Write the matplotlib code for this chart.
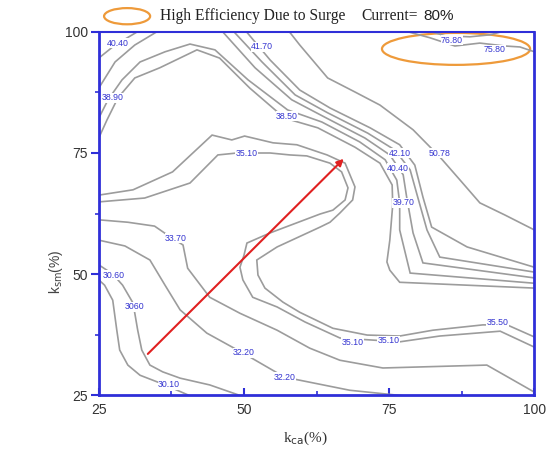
import matplotlib
matplotlib.use("Agg")
import matplotlib.pyplot as plt
from matplotlib.patches import Ellipse
from matplotlib.ticker import MultipleLocator

# 1. Curvas de nivel (k_ca %, k_sm %)
corner_x = [25, 27.8, 32.3]
corner_y = [94.6, 97.3, 100.5]

# feixe de linhas que desce do canto superior para a direita
b0_x = [50.1, 54.5, 59.6, 64.8, 71.7, 76.8, 79.4, 80.8, 82.3, 88.4, 100]
b0_y = [100.5, 94.2, 88.0, 84.3, 80.2, 76.7, 72.5, 65.9, 59.7, 55.6, 51.4]
b1_x = [47.9, 53.1, 58.8, 64.4, 71.3, 76.0, 78.6, 79.9, 81.5, 83.7, 100]
b1_y = [100.5, 93.8, 87.0, 83.3, 79.1, 75.6, 71.5, 65.9, 59.1, 53.5, 50.4]
b2_x = [25, 27.8, 31.2, 35.5, 40.7, 46.2, 51.9, 58.2, 63.9, 70.8, 75.1, 77.4, 78.0, 79.1, 80.8, 100]
b2_y = [88.4, 93.8, 97.3, 100.4, 102.1, 100.2, 92.6, 86.0, 82.4, 78.1, 74.6, 70.5, 65.9, 58.5, 52.3, 49.2]
b3_x = [25, 26.6, 29.0, 32.1, 36.4, 40.7, 45.0, 50.7, 57.5, 63.4, 69.9, 74.3, 76.3, 76.8, 76.8, 78.6, 100]
b3_y = [82.2, 86.0, 90.1, 93.8, 95.9, 97.5, 96.3, 90.1, 83.9, 81.4, 77.3, 73.6, 69.4, 64.7, 59.1, 50.2, 48.1]
b4_x = [25, 26.4, 28.3, 31.2, 35.5, 41.9, 45.8, 51.0, 57.0, 62.7, 69.1, 73.4, 75.5, 75.6, 75.1, 74.6, 75.1, 76.8, 100]
b4_y = [78.1, 81.8, 86.4, 90.5, 92.6, 96.3, 94.6, 88.4, 82.2, 80.2, 76.2, 72.9, 68.4, 64.3, 57.0, 52.5, 50.8, 48.3, 47.1]

# linha 50.78
l5078_x = [57.5, 59.6, 64.4, 69.1, 73.4, 79.1, 83.7, 87.2, 90.6, 94.9, 100]
l5078_y = [100.5, 97.3, 90.5, 87.6, 84.9, 79.8, 74.2, 69.4, 64.7, 62.2, 59.1]

# linhas dentro da elipse (surge)
l7580_x = [76.8, 82.0, 86.3, 90.6, 94.9, 97.5, 100]
l7580_y = [100.5, 98.8, 97.1, 97.7, 97.1, 96.9, 95.9]
l7680_x = [81.1, 84.6, 88.9, 92.3, 95.8]
l7680_y = [100.5, 99.2, 99.0, 99.4, 100.5]

# "lingua" 35.10 (duas linhas)
t_out_x = [25, 30.9, 37.7, 44.5, 47.9, 50.1, 55.0, 59.1, 64.3, 67.4, 69.1, 68.7, 66.5, 64.8, 63.1,
           55.7, 52.2, 52.4, 53.6, 56.7, 59.6, 65.3, 71.2, 76.8, 82.5, 91.1, 95.3, 100]
t_out_y = [66.3, 67.4, 71.1, 78.7, 77.7, 78.5, 77.1, 76.7, 74.6, 72.9, 68.0, 65.3, 62.6, 60.7, 59.7,
           55.6, 52.9, 49.8, 47.1, 44.2, 42.1, 38.8, 37.4, 37.2, 38.4, 39.5, 39.5, 37.0]
t_in_x = [25, 32.9, 40.7, 45.5, 48.8, 54.5, 57.9, 60.8, 64.8, 66.8, 67.9, 67.4, 65.3, 63.1,
          54.5, 50.5, 50.0, 49.3, 49.8, 51.5, 55.7, 60.5, 66.5, 76.8, 83.7, 94.1, 100]
t_in_y = [64.9, 65.7, 68.8, 74.6, 75.0, 75.0, 74.6, 74.4, 72.9, 71.1, 67.8, 65.3, 63.2, 62.4,
          58.5, 56.4, 53.9, 51.4, 48.8, 45.2, 43.2, 40.1, 36.8, 36.0, 37.2, 38.2, 34.9]

# linhas do canto inferior esquerdo
la_x = [25, 30.0, 34.6, 36.9, 39.5, 40.3, 44.1, 49.3, 55.7, 61.3, 66.5, 73.9, 91.8, 100]
la_y = [61.2, 60.7, 59.9, 58.0, 56.0, 51.2, 45.2, 41.9, 38.4, 34.7, 32.2, 30.6, 31.2, 25.6]
lb_x = [25, 29.5, 33.8, 36.4, 39.0, 43.6, 49.8, 57.0, 68.2, 77.9]
lb_y = [57.0, 55.8, 52.9, 47.7, 42.6, 37.8, 33.7, 28.7, 26.0, 24.8]
lc_x = [25, 26.0, 27.4, 28.1, 28.6, 30.0, 32.1, 36.4, 40.8]
lc_y = [48.8, 47.7, 44.6, 38.4, 34.3, 31.2, 29.1, 27.1, 24.8]
ld_x = [25, 27.4, 29.1, 30.9, 31.7, 32.4, 33.8, 36.0, 39.0, 44.1, 49.6]
ld_y = [51.9, 50.0, 47.7, 44.0, 38.4, 34.3, 31.2, 29.8, 28.5, 27.1, 24.8]

lines = [(corner_x, corner_y), (b0_x, b0_y), (b1_x, b1_y), (b2_x, b2_y), (b3_x, b3_y),
         (b4_x, b4_y), (l5078_x, l5078_y), (l7580_x, l7580_y), (l7680_x, l7680_y),
         (t_out_x, t_out_y), (t_in_x, t_in_y), (la_x, la_y), (lb_x, lb_y),
         (lc_x, lc_y), (ld_x, ld_y)]

# rotulos das curvas
label_text = ["40.40", "38.90", "41.70", "38.50", "35.10", "42.10", "50.78", "40.40", "39.70",
              "33.70", "30.60", "3060", "32.20", "32.20", "30.10", "35.10", "35.10", "35.50",
              "76.80", "75.80"]
label_x = [28.3, 27.4, 53.1, 57.4, 50.5, 76.8, 83.7, 76.5, 77.4,
           38.3, 27.6, 31.2, 50.0, 57.0, 37.1, 68.7, 74.9, 93.7,
           85.8, 93.2]
label_y = [97.7, 86.4, 96.9, 82.6, 75.0, 75.0, 75.0, 71.9, 64.7,
           57.4, 49.8, 43.2, 33.7, 28.7, 27.1, 35.9, 36.2, 39.9,
           98.3, 96.3]

# seta (direcao de aumento de eficiencia)
arrow_start = (33.1, 33.1)
arrow_end = (67.5, 74.2)

# elipse da regiao de surge
surge_center = (86.5, 96.5)
surge_w, surge_h = 25.5, 6.6

# 2. Figura
blue = "#2f2fd8"
fig = plt.figure(figsize=(5.55, 4.5), dpi=100)
ax = fig.add_axes([0.178, 0.122, 0.785, 0.807])

for xs, ys in lines:
    ax.plot(xs, ys, color="#9c9c9c", lw=1.2, solid_joinstyle="miter")

for t, x, y in zip(label_text, label_x, label_y):
    ax.text(x, y, t, color="#3535d0", fontsize=6.3, ha="center", va="center",
            family="Liberation Sans",
            bbox=dict(facecolor="white", edgecolor="none", pad=0.3))

ax.annotate("", xy=arrow_end, xytext=arrow_start,
            arrowprops=dict(arrowstyle="-|>", color="#e02020", lw=1.5, mutation_scale=10))

ax.add_patch(Ellipse(surge_center, surge_w, surge_h, fill=False,
                     edgecolor="#ee9a3a", lw=1.6, clip_on=False))

ax.set_xlim(25, 100)
ax.set_ylim(25, 100)
ax.xaxis.set_major_locator(MultipleLocator(25))
ax.yaxis.set_major_locator(MultipleLocator(25))
ax.xaxis.set_minor_locator(MultipleLocator(12.5))
ax.yaxis.set_minor_locator(MultipleLocator(12.5))

for s in ["left", "bottom", "right"]:
    ax.spines[s].set_color(blue)
    ax.spines[s].set_linewidth(2)
ax.spines["top"].set_color(blue)
ax.spines["top"].set_linewidth(1.5)

ax.tick_params(axis="x", which="major", direction="in", length=5, width=1.5, color=blue,
               labelsize=10, labelcolor="#333333", pad=6)
ax.tick_params(axis="x", which="minor", direction="in", length=3, width=1.2, color=blue)
ax.tick_params(axis="y", which="major", direction="out", length=6, width=1.5, color=blue,
               labelsize=10, labelcolor="#333333", pad=2)
ax.tick_params(axis="y", which="minor", direction="out", length=3, width=1.2, color=blue)
for lb in ax.get_xticklabels() + ax.get_yticklabels():
    lb.set_family("Liberation Sans")

ax.set_xlabel(r"k$_{\rm ca}$(%)", family="Liberation Serif", fontsize=11, color="#333333")
ax.xaxis.set_label_coords(0.475, -0.095)
ax.set_ylabel(r"k$_{\rm sm}$(%)", family="Liberation Sans", fontsize=10, color="#444444")
ax.yaxis.set_label_coords(-0.078, 0.34)

# 3. Legenda no topo
fig.patches.append(Ellipse((0.229, 0.964), 0.083, 0.036, fill=False, edgecolor="#ee9a3a",
                           lw=1.6, transform=fig.transFigure))
fig.text(0.288, 0.964, "High Efficiency Due to Surge", family="Liberation Serif",
         fontsize=11.2, va="center", color="#222222")
fig.text(0.652, 0.964, "Current=", family="Liberation Serif", fontsize=11.2,
         va="center", color="#222222")
fig.text(0.762, 0.964, "80%", family="Liberation Sans", fontsize=11,
         va="center", color="#222222")

fig.savefig("out.png", dpi=100, facecolor="white")
